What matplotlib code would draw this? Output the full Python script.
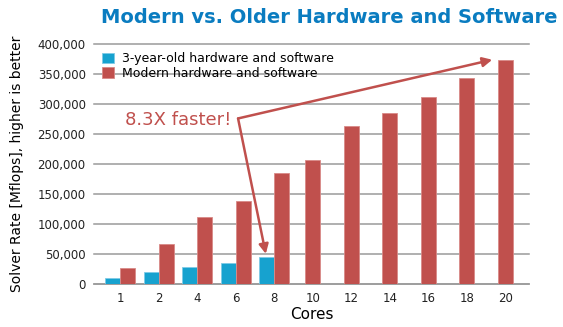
import matplotlib.pyplot as plt
import numpy as np

cores = ["1", "2", "4", "6", "8", "10", "12", "14", "16", "18", "20"]
old_rate = [10000, 20000, 28000, 34000, 45000]
new_rate = [26000, 66000, 111000, 139000, 185000, 207000, 264000, 285000, 311000, 343000, 373000]
yticks = [0, 50000, 100000, 150000, 200000, 250000, 300000, 350000, 400000]

blue = "#17A2CF"
red = "#C0504D"

fig = plt.figure(figsize=(5.63, 3.27), dpi=100)
ax = fig.add_axes([0.167, 0.132, 0.773, 0.733])

x = np.arange(len(cores))
w = 0.39
n_old = len(old_rate)
# grouped bars where both exist, centred red bars afterwards
new_x = np.where(x < n_old, x + w / 2, x)
ax.bar(x[:n_old] - w / 2, old_rate, width=w, color=blue, edgecolor="#7fcbe6", linewidth=0.6,
       label="3-year-old hardware and software", zorder=3)
ax.bar(new_x, new_rate, width=w, color=red, edgecolor="#d98a88", linewidth=0.6,
       label="Modern hardware and software", zorder=3)

ax.set_xlim(-0.68, 10.62)
ax.set_ylim(0, 400000)
ax.set_yticks(yticks)
ax.set_yticklabels([f"{v:,}" for v in yticks], fontsize=8.5, color="#222222")
ax.set_xticks(x)
ax.set_xticklabels(cores, fontsize=8.5, color="#222222")
ax.tick_params(length=0, pad=6)
ax.yaxis.grid(True, color="#9a9a9a", linewidth=1.1, zorder=0, clip_on=False)
for s in ["top", "right", "left"]:
    ax.spines[s].set_visible(False)
ax.spines["bottom"].set_color("#9a9a9a")
ax.spines["bottom"].set_linewidth(1.1)

ax.set_xlabel("Cores", fontsize=11, labelpad=1)
ax.set_ylabel("Solver Rate [Mflops], higher is better", fontsize=10, labelpad=10)

leg = ax.legend(loc="upper left", frameon=False, fontsize=9, handlelength=0.95, handleheight=0.95,
                borderaxespad=0.25, labelspacing=0.1, handletextpad=0.6)

fig.text(0.99, 0.945, "Modern vs. Older Hardware and Software", ha="right", va="center",
         fontsize=14, fontweight="bold", color="#0A7CC0")

ax.text(1.5, 273000, "8.3X faster!", ha="center", va="center", fontsize=13, color=red)
start = (3.06, 276000)
ax.annotate("", xy=(9.66, 374000), xytext=start,
            arrowprops=dict(arrowstyle="-|>", color=red, lw=1.8, mutation_scale=14, shrinkA=0, shrinkB=0))
ax.annotate("", xy=(3.78, 50000), xytext=start,
            arrowprops=dict(arrowstyle="-|>", color=red, lw=1.8, mutation_scale=14, shrinkA=0, shrinkB=0))

fig.savefig("out.png", dpi=100)
